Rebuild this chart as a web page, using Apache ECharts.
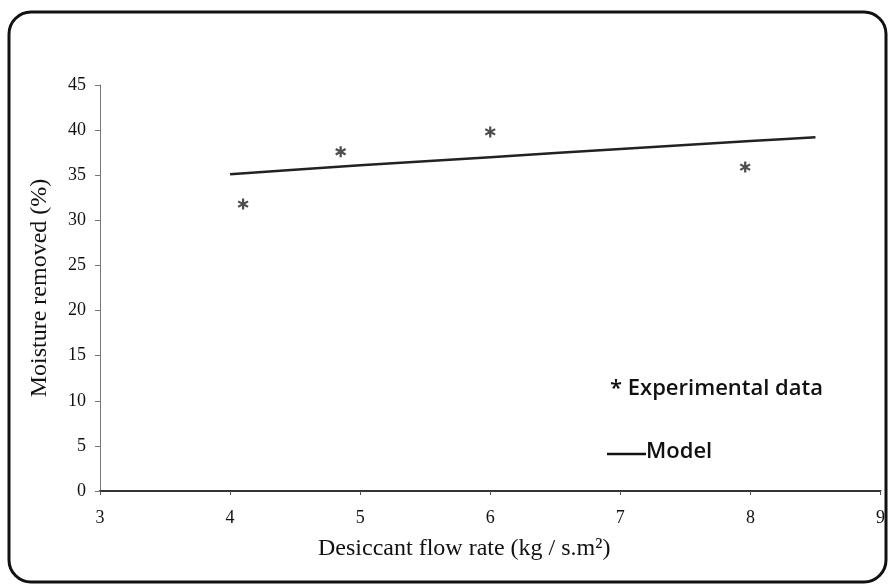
<!DOCTYPE html>
<html>
<head>
<meta charset="utf-8">
<script src="https://cdn.jsdelivr.net/npm/echarts@6/dist/echarts.min.js"></script>
<style>html,body{margin:0;padding:0;background:#fff}#c{width:888px;height:584px}</style>
</head>
<body>
<div id="c"></div>
<script>
// Experimental data (desiccant flow rate, moisture removed %)
const expX = [4.1, 4.85, 6.0, 7.96];
const expY = [31.8, 37.6, 39.8, 35.9];
// Model curve
const modelX = [4.0, 5.0, 6.0, 7.0, 8.0, 8.5];
const modelY = [35.1, 36.1, 37.0, 37.9, 38.8, 39.2];
// Axis ticks
const xTicks = [3, 4, 5, 6, 7, 8, 9];
const yTicks = [0, 5, 10, 15, 20, 25, 30, 35, 40, 45];

const star = 'path://M-1,5 L1,5 L1,-5 L-1,-5 Z M3.83,3.37 L4.83,1.63 L-3.83,-3.37 L-4.83,-1.63 Z M-4.83,1.63 L-3.83,3.37 L4.83,-1.63 L3.83,-3.37 Z';

const chart = echarts.init(document.getElementById('c'), null, {renderer: 'canvas'});
const serif = 'Liberation Serif';
chart.setOption({
  backgroundColor: '#ffffff',
  animation: false,
  grid: {left: 100, right: 4, top: 85, bottom: 93},
  xAxis: {
    type: 'value', min: xTicks[0], max: xTicks[xTicks.length - 1], interval: 1,
    name: 'Desiccant flow rate (kg / s.m²)', nameLocation: 'middle', nameGap: 46,
    nameTextStyle: {fontFamily: serif, fontSize: 24, color: '#111', padding: [0, 52, 0, 0]},
    axisLine: {lineStyle: {color: '#333', width: 2}},
    axisTick: {show: true, length: 4, inside: false, lineStyle: {color: '#555'}},
    axisLabel: {fontFamily: serif, fontSize: 18, color: '#111', margin: 18},
    splitLine: {show: false}
  },
  yAxis: {
    type: 'value', min: yTicks[0], max: yTicks[yTicks.length - 1], interval: 5,
    name: 'Moisture removed (%)', nameLocation: 'middle', nameGap: 48,
    nameTextStyle: {fontFamily: serif, fontSize: 24, color: '#111'},
    axisLine: {show: true, lineStyle: {color: '#777', width: 1}},
    axisTick: {show: true, length: 5, lineStyle: {color: '#777'}},
    axisLabel: {fontFamily: serif, fontSize: 18, color: '#111', margin: 14},
    splitLine: {show: false}
  },
  series: [
    {
      type: 'line', data: modelX.map((x, i) => [x, modelY[i]]),
      showSymbol: false, smooth: 0.2,
      lineStyle: {color: '#222', width: 2.5}
    },
    {
      type: 'scatter', data: expX.map((x, i) => [x, expY[i]]),
      symbol: star, symbolSize: 11,
      itemStyle: {color: '#222'}
    }
  ],
  graphic: [
    {type: 'rect', shape: {x: 9, y: 12, width: 877, height: 570, r: 22},
     style: {fill: 'none', stroke: '#111', lineWidth: 3}, silent: true},
    {type: 'text', left: 610, top: 378,
     style: {text: '* Experimental data', font: '600 22px "Open Sans"', fill: '#111'}},
    {type: 'line', shape: {x1: 607, y1: 454, x2: 646, y2: 454},
     style: {stroke: '#111', lineWidth: 2.5}},
    {type: 'text', left: 646, top: 441,
     style: {text: 'Model', font: '600 22px "Open Sans"', fill: '#111'}}
  ]
});
</script>
</body>
</html>
